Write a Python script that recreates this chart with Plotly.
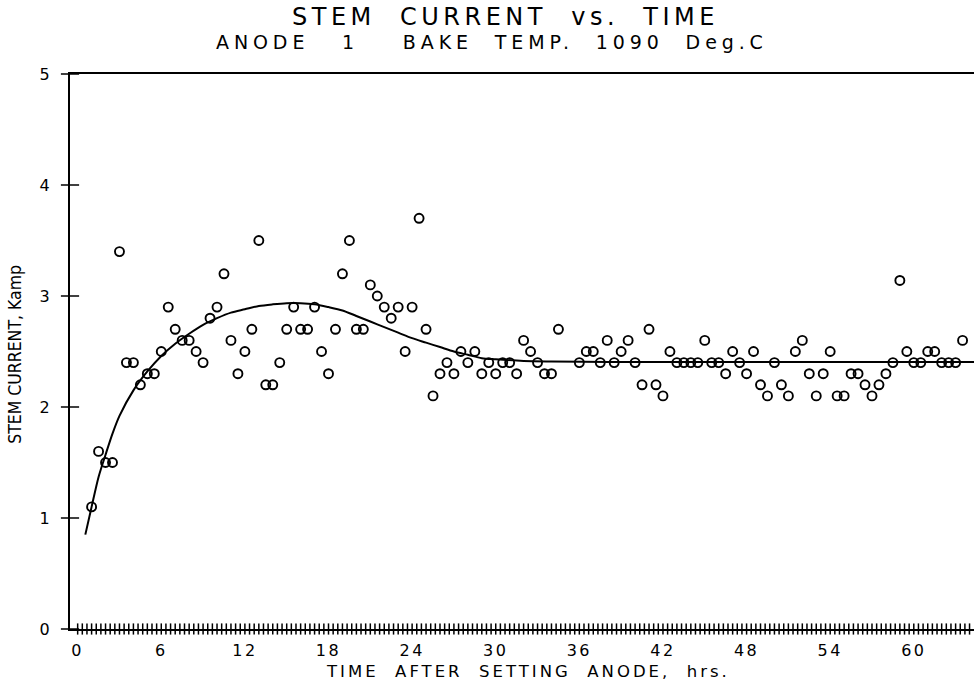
import plotly.graph_objects as go

# Measured data (hours, kA)
times = [1.0, 1.5, 2.0, 2.5, 3.0, 3.5, 4.0, 4.5, 5.0, 5.5,
         6.0, 6.5, 7.0, 7.5, 8.0, 8.5, 9.0, 9.5, 10.0, 10.5,
         11.0, 11.5, 12.0, 12.5, 13.0, 13.5, 14.0, 14.5, 15.0, 15.5,
         16.0, 16.5, 17.0, 17.5, 18.0, 18.5, 19.0, 19.5, 20.0, 20.5,
         21.0, 21.5, 22.0, 22.5, 23.0, 23.5, 24.0, 24.5, 25.0, 25.5,
         26.0, 26.5, 27.0, 27.5, 28.0, 28.5, 29.0, 29.5, 30.0, 30.5,
         31.0, 31.5, 32.0, 32.5, 33.0, 33.5, 34.0, 34.5,
         36.0, 36.5, 37.0, 37.5, 38.0, 38.5, 39.0, 39.5, 40.0, 40.5,
         41.0, 41.5, 42.0, 42.5, 43.0, 43.5, 44.0, 44.5, 45.0, 45.5,
         46.0, 46.5, 47.0, 47.5, 48.0, 48.5, 49.0, 49.5, 50.0, 50.5,
         51.0, 51.5, 52.0, 52.5, 53.0, 53.5, 54.0, 54.5, 55.0, 55.5,
         56.0, 56.5, 57.0, 57.5, 58.0, 58.5, 59.0, 59.5, 60.0, 60.5,
         61.0, 61.5, 62.0, 62.5, 63.0, 63.5]

current = [1.1, 1.6, 1.5, 1.5, 3.4, 2.4, 2.4, 2.2, 2.3, 2.3,
           2.5, 2.9, 2.7, 2.6, 2.6, 2.5, 2.4, 2.8, 2.9, 3.2,
           2.6, 2.3, 2.5, 2.7, 3.5, 2.2, 2.2, 2.4, 2.7, 2.9,
           2.7, 2.7, 2.9, 2.5, 2.3, 2.7, 3.2, 3.5, 2.7, 2.7,
           3.1, 3.0, 2.9, 2.8, 2.9, 2.5, 2.9, 3.7, 2.7, 2.1,
           2.3, 2.4, 2.3, 2.5, 2.4, 2.5, 2.3, 2.4, 2.3, 2.4,
           2.4, 2.3, 2.6, 2.5, 2.4, 2.3, 2.3, 2.7,
           2.4, 2.5, 2.5, 2.4, 2.6, 2.4, 2.5, 2.6, 2.4, 2.2,
           2.7, 2.2, 2.1, 2.5, 2.4, 2.4, 2.4, 2.4, 2.6, 2.4,
           2.4, 2.3, 2.5, 2.4, 2.3, 2.5, 2.2, 2.1, 2.4, 2.2,
           2.1, 2.5, 2.6, 2.3, 2.1, 2.3, 2.5, 2.1, 2.1, 2.3,
           2.3, 2.2, 2.1, 2.2, 2.3, 2.4, 3.14, 2.5, 2.4, 2.4,
           2.5, 2.5, 2.4, 2.4, 2.4, 2.6]

# Fitted curve
fit_t = [0.55, 1.0, 1.5, 2.0, 2.5, 3.0, 4.0, 5.0, 6.0, 7.0, 8.0, 9.0, 10.0,
         11.0, 12.0, 13.0, 14.0, 15.0, 16.0, 17.0, 18.0, 19.0, 20.0, 21.0,
         22.0, 23.0, 24.0, 25.0, 26.0, 27.0, 28.0, 29.0, 30.0, 32.0, 34.0,
         38.0, 44.0, 50.0, 56.0, 62.0, 66.0]
fit_y = [0.85, 1.10, 1.37, 1.57, 1.76, 1.92, 2.15, 2.32, 2.46, 2.57, 2.66,
         2.74, 2.80, 2.85, 2.88, 2.91, 2.925, 2.935, 2.935, 2.925, 2.90, 2.87,
         2.82, 2.77, 2.72, 2.67, 2.62, 2.58, 2.54, 2.50, 2.47, 2.44, 2.43,
         2.415, 2.41, 2.405, 2.405, 2.405, 2.405, 2.405, 2.405]

x_ticks = [0, 6, 12, 18, 24, 30, 36, 42, 48, 54, 60]
x_tick_text = ["0", "6", "12", "18", "24", "30", "36", "42", "48", "54", "60"]
y_ticks = [0, 1, 2, 3, 4, 5]
x_minor_step = 1 / 3          # cross-tick spacing along the time axis (hrs)

xr = [-0.55, 64.32]
yr = [0, 5]

FONT = "DejaVu Sans"
NARROW = "Liberation Sans Narrow, DejaVu Sans Condensed, Arial Narrow, sans-serif"


def spaced(s, px):
    return '<span style="letter-spacing:%spx">%s</span>' % (px, s)


# cross-shaped tick marks (drawn as line markers straddling the axes)
n_minor = int(xr[1] / x_minor_step) + 1
x_cross = [k * x_minor_step for k in range(n_minor)]

fig = go.Figure()
fig.add_trace(go.Scatter(x=fit_t, y=fit_y, mode="lines",
                         line=dict(color="black", width=2, shape="spline", smoothing=0.8),
                         hoverinfo="skip"))
fig.add_trace(go.Scatter(x=times, y=current, mode="markers",
                         marker=dict(symbol="circle-open", size=9, color="black",
                                     line=dict(width=1.9, color="black"))))
fig.add_trace(go.Scatter(x=x_cross, y=[yr[0]] * len(x_cross), mode="markers",
                         cliponaxis=False, hoverinfo="skip",
                         marker=dict(symbol="line-ns", size=8,
                                     line=dict(width=1.5, color="black"))))
fig.add_trace(go.Scatter(x=[xr[0]] * len(y_ticks), y=y_ticks, mode="markers",
                         cliponaxis=False, hoverinfo="skip",
                         marker=dict(symbol="line-ew", size=13,
                                     line=dict(width=1.5, color="black"))))

fig.update_layout(
    width=974, height=687,
    margin=dict(l=70, r=0, t=74, b=58),
    paper_bgcolor="white", plot_bgcolor="white",
    showlegend=False,
    font=dict(family=FONT, color="black"),
    xaxis=dict(range=xr, tickmode="array", tickvals=x_ticks,
               ticktext=[spaced(t, 2.5) for t in x_tick_text],
               ticks="", ticklabelstandoff=6,
               showline=True, linewidth=2, linecolor="black", mirror=True,
               showgrid=False, zeroline=False,
               tickfont=dict(family=FONT, size=16)),
    yaxis=dict(range=yr, tickmode="array", tickvals=y_ticks,
               ticks="", ticklabelstandoff=15,
               showline=True, linewidth=2, linecolor="black", mirror=False,
               showgrid=False, zeroline=False,
               tickfont=dict(family=FONT, size=16)),
)

fig.add_annotation(text=spaced("STEM\u00a0\u00a0CURRENT\u00a0\u00a0vs.\u00a0\u00a0TIME", 4.5),
                   xref="paper", yref="paper", x=0.482, y=1.103,
                   xanchor="center", yanchor="middle", showarrow=False,
                   font=dict(family=FONT, size=24))
fig.add_annotation(text=spaced("ANODE\u00a0\u00a0\u00a01\u00a0\u00a0\u00a0\u00a0BAKE\u00a0\u00a0TEMP.\u00a0\u00a01090\u00a0\u00a0Deg.C", 4.9),
                   xref="paper", yref="paper", x=0.467, y=1.058,
                   xanchor="center", yanchor="middle", showarrow=False,
                   font=dict(family=FONT, size=19))
fig.add_annotation(text=spaced("TIME\u00a0\u00a0AFTER\u00a0\u00a0SETTING\u00a0\u00a0ANODE,\u00a0\u00a0hrs.", 3.0),
                   xref="paper", yref="paper", x=0.507, y=-0.077,
                   xanchor="center", yanchor="middle", showarrow=False,
                   font=dict(family=FONT, size=16.5))
fig.add_annotation(text="STEM CURRENT, Kamp",
                   xref="paper", yref="paper", x=-0.0608, y=0.494,
                   xanchor="center", yanchor="middle", showarrow=False,
                   textangle=-90, font=dict(family=NARROW, size=17.5))

fig.write_html("out.html")
